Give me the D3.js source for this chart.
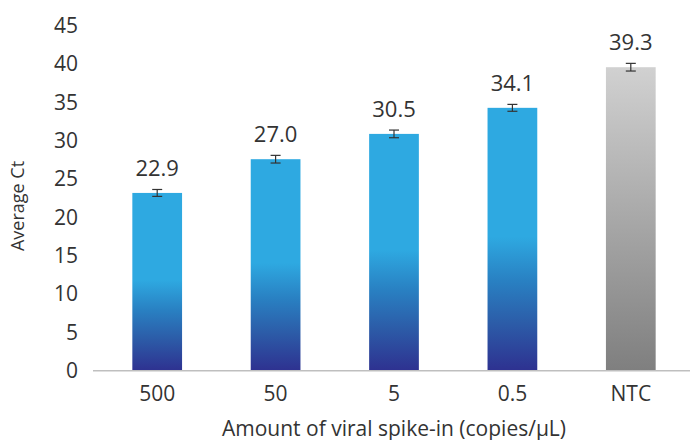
<!DOCTYPE html>
<html>
<head>
<meta charset="utf-8">
<script src="https://cdn.jsdelivr.net/npm/d3@7"></script>
<style>
  body { margin: 0; background: #fff; }
  text { font-family: "Open Sans", sans-serif; fill: #333; }
</style>
</head>
<body>
<svg id="canvas" width="690" height="440"></svg>
<script>
// data
var categories = ['500', '50', '5', '0.5', 'NTC'];
var avg_ct = [23.2, 27.6, 30.9, 34.3, 39.6];
var ct_err = [0.45, 0.5, 0.5, 0.45, 0.5];
var value_labels = ['22.9', '27.0', '30.5', '34.1', '39.3'];
var y_ticks = [0, 5, 10, 15, 20, 25, 30, 35, 40, 45];

var svg = d3.select('#canvas');

var x = d3.scaleBand().domain(categories).range([98, 690]).paddingInner(0.58).paddingOuter(0.29);
var y = d3.scaleLinear().domain([0, 45]).range([370.8, 25.8]);

// gradients
var defs = svg.append('defs');
var blue = defs.append('linearGradient').attr('id', 'blue').attr('x1', 0).attr('y1', 0).attr('x2', 0).attr('y2', 1);
[[0, '#2EA9E1'], [0.49, '#2EA9E1'], [0.66, '#2980C2'], [0.82, '#2C5CA8'], [1, '#2E3190']].forEach(function(s){
  blue.append('stop').attr('offset', s[0]).attr('stop-color', s[1]);
});
var grey = defs.append('linearGradient').attr('id', 'grey').attr('x1', 0).attr('y1', 0).attr('x2', 0).attr('y2', 1);
[[0, '#D1D1D1'], [1, '#7F7F7F']].forEach(function(s){
  grey.append('stop').attr('offset', s[0]).attr('stop-color', s[1]);
});

// y axis tick labels
var yAxis = d3.axisLeft(y).tickValues(y_ticks).tickSize(0).tickPadding(0);
var yg = svg.append('g').attr('transform', 'translate(78,0)').call(yAxis);
yg.select('.domain').remove();
yg.selectAll('text').style('font-size', '21px').style('font-family', '"Open Sans", sans-serif').attr('fill', '#333');

// bars
svg.selectAll('rect.bar').data(categories).enter().append('rect')
  .attr('class', 'bar')
  .attr('x', function(d){ return x(d); })
  .attr('width', x.bandwidth())
  .attr('y', function(d, i){ return y(avg_ct[i]); })
  .attr('height', function(d, i){ return y(0) - y(avg_ct[i]); })
  .attr('fill', function(d){ return d == 'NTC' ? 'url(#grey)' : 'url(#blue)'; });

// x axis
var xAxis = d3.axisBottom(x).tickSize(0).tickPadding(15);
var xg = svg.append('g').attr('transform', 'translate(0,' + y(0) + ')').call(xAxis);
xg.select('.domain').remove();
xg.selectAll('text').style('font-size', '21px').style('font-family', '"Open Sans", sans-serif').attr('fill', '#333');
svg.append('line').attr('x1', 93).attr('x2', 690).attr('y1', y(0)).attr('y2', y(0))
  .style('stroke', '#BFBFBF').style('stroke-width', 1.5);

// error bars
var eb = svg.selectAll('g.err').data(categories).enter().append('g').attr('class', 'err')
  .attr('transform', function(d){ return 'translate(' + (x(d) + x.bandwidth()/2) + ',0)'; });
eb.append('line').attr('x1', 0).attr('x2', 0)
  .attr('y1', function(d, i){ return y(avg_ct[i] + ct_err[i]); })
  .attr('y2', function(d, i){ return y(avg_ct[i] - ct_err[i]); });
eb.append('line').attr('x1', -5).attr('x2', 5)
  .attr('y1', function(d, i){ return y(avg_ct[i] + ct_err[i]); })
  .attr('y2', function(d, i){ return y(avg_ct[i] + ct_err[i]); });
eb.append('line').attr('x1', -5).attr('x2', 5)
  .attr('y1', function(d, i){ return y(avg_ct[i] - ct_err[i]); })
  .attr('y2', function(d, i){ return y(avg_ct[i] - ct_err[i]); });
eb.selectAll('line').style('stroke', '#333').style('stroke-width', 1.2);

// value labels
svg.selectAll('text.val').data(categories).enter().append('text')
  .attr('class', 'val')
  .attr('x', function(d){ return x(d) + x.bandwidth()/2; })
  .attr('y', function(d, i){ return y(avg_ct[i]) - 17; })
  .attr('text-anchor', 'middle')
  .style('font-size', '22px')
  .text(function(d, i){ return value_labels[i]; });

// axis titles
svg.append('text').attr('transform', 'translate(24,206) rotate(-90)')
  .attr('text-anchor', 'middle').style('font-size', '18px').text('Average Ct');
svg.append('text').attr('x', 394).attr('y', 436)
  .attr('text-anchor', 'middle').style('font-size', '21px').text('Amount of viral spike-in (copies/µL)');
</script>
</body>
</html>
